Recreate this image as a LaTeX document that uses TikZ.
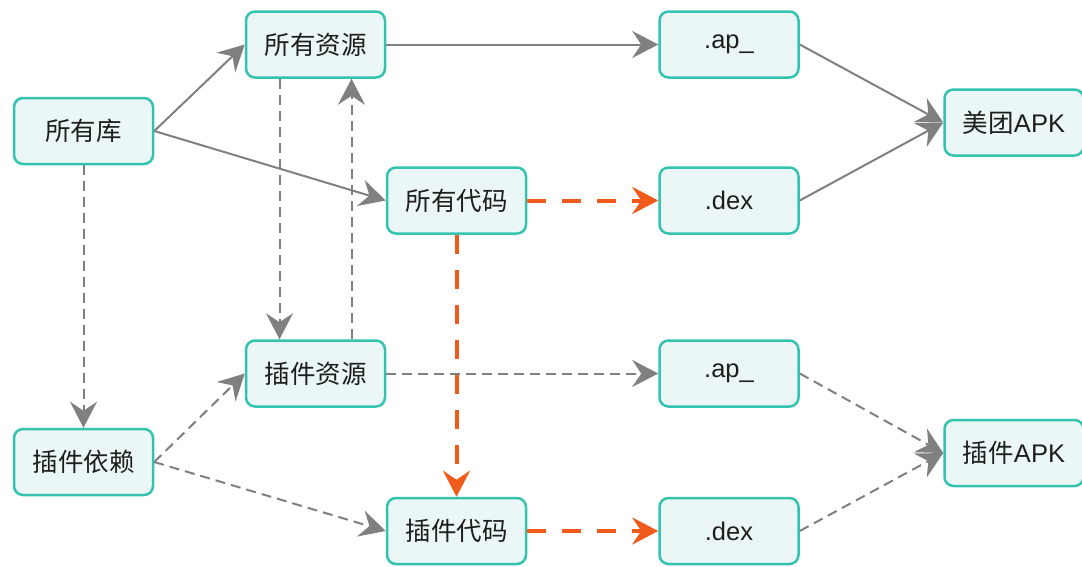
\documentclass[tikz,border=0pt]{standalone}
\usepackage{fontspec}
\setmainfont{Liberation Sans}
\newfontfamily\cjk{Noto Sans CJK SC}
\usetikzlibrary{arrows.meta}
\definecolor{bordc}{HTML}{33C3AE}
\definecolor{fillc}{HTML}{EAF7F6}
\definecolor{grayc}{HTML}{808080}
\definecolor{orangec}{HTML}{F05A1A}
\definecolor{textc}{HTML}{1E1E1E}
\tikzset{
  box/.style={draw=bordc, fill=fillc, line width=2.5pt, rounded corners=9pt,
    minimum width=139pt, minimum height=66pt, inner sep=0pt,
    font=\fontsize{25.5}{28}\selectfont, text=textc},
  tipa/.style={-{Stealth[length=26pt,width=27pt,inset=9pt]}},
  solidarr/.style={tipa, draw=grayc, line width=2pt},
  dasharr/.style={tipa, draw=grayc, line width=2pt, dash pattern=on 10pt off 6pt},
  orarr/.style={tipa, draw=orangec, line width=4pt, dash pattern=on 19pt off 16pt},
}
\begin{document}
\begin{tikzpicture}[x=1pt,y=-1pt]
\useasboundingbox (0,0) rectangle (1082,566);
\node[box] (lib) at (83.5,131) {\cjk 所有库};
\node[box] (res) at (315.5,44.5) {\cjk 所有资源};
\node[box] (code) at (456.5,200.5) {\cjk 所有代码};
\node[box] (ap1) at (729,44.5) {.ap\_};
\node[box] (dex1) at (729,200.5) {.dex};
\node[box] (apk1) at (1014,122.5) {{\cjk 美团}APK};
\node[box] (pres) at (315.5,373.5) {\cjk 插件资源};
\node[box] (pdep) at (83.5,462) {\cjk 插件依赖};
\node[box] (pcode) at (456.5,531) {\cjk 插件代码};
\node[box] (ap2) at (729,373.5) {.ap\_};
\node[box] (dex2) at (729,531) {.dex};
\node[box] (apk2) at (1014,453) {{\cjk 插件}APK};

\draw[solidarr] (lib.east) -- (res.west);
\draw[solidarr] (lib.east) -- (code.west);
\draw[solidarr] (res.east) -- (ap1.west);
\draw[solidarr] (ap1.east) -- (apk1.west);
\draw[solidarr] (dex1.east) -- (apk1.west);

\draw[dasharr] (lib.south) -- (pdep.north);
\draw[dasharr] ([xshift=-36pt]res.south) -- ([xshift=-36pt]pres.north);
\draw[dasharr] ([xshift=36pt]pres.north) -- ([xshift=36pt]res.south);
\draw[dasharr] (pdep.east) -- (pres.west);
\draw[dasharr] (pdep.east) -- (pcode.west);
\draw[dasharr] (pres.east) -- (ap2.west);
\draw[dasharr] (ap2.east) -- (apk2.west);
\draw[dasharr] (dex2.east) -- (apk2.west);

\draw[orarr] (code.east) -- (dex1.west);
\draw[orarr] (code.south) -- (pcode.north);
\draw[orarr] (pcode.east) -- (dex2.west);
\end{tikzpicture}
\end{document}
